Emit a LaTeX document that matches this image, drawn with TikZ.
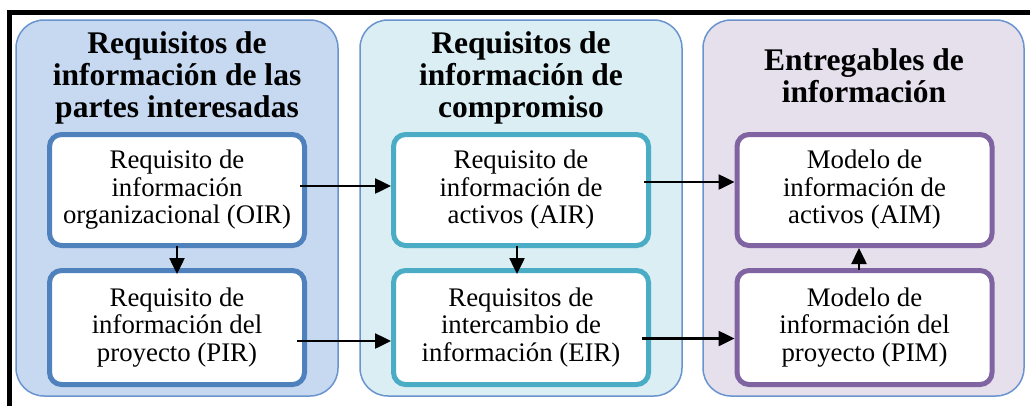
\documentclass[tikz,border=0pt]{standalone}
\usepackage{fontspec}
\setmainfont{Liberation Serif}
\usetikzlibrary{arrows.meta,calc}
\definecolor{pfillA}{HTML}{C6D9F1}
\definecolor{pfillB}{HTML}{DAEEF3}
\definecolor{pfillC}{HTML}{E5E0EC}
\definecolor{pline}{HTML}{6A94CE}
\definecolor{bA}{HTML}{4F81BD}
\definecolor{bB}{HTML}{4BACC6}
\definecolor{bC}{HTML}{8064A2}
\begin{document}
\begin{tikzpicture}[x=1pt,y=-1pt,
  panel/.style={draw=pline, line width=1.5pt, rounded corners=28pt},
  title/.style={font=\fontsize{31.5}{32}\selectfont\bfseries, align=center, inner sep=0pt},
  box/.style={fill=white, line width=5pt, rounded corners=12pt, minimum width=255pt,
    inner sep=0pt, align=center, font=\fontsize{26.8}{27.5}\selectfont},
  conn/.style={line width=2.5pt, -{Triangle[length=16pt,width=15pt]}}]
\useasboundingbox (0,0) rectangle (1030,405);
\clip (0,0) rectangle (1030,405);
\fill[white] (0,0) rectangle (1030,405);
% frame
\draw[line width=5pt] (9.5,420) -- (9.5,12.5) -- (1040,12.5);
% panels
\draw[panel, fill=pfillA] (16,20) rectangle (338,396);
\draw[panel, fill=pfillB] (360,20) rectangle (682,396);
\draw[panel, fill=pfillC] (703,20) rectangle (1024,396);
% titles
\node[title] (tA) at (177,77.6) {Requisitos de\\información de las\\partes interesadas};
\node[title] (tB) at (521,77.6) {Requisitos de\\información de\\compromiso};
\node[title] (tC) at (864,75.3) {Entregables de\\información};
% boxes
\node[box, draw=bA, minimum height=111pt] (oir) at (177,190) {Requisito de\\información\\organizacional (OIR)};
\node[box, draw=bA, minimum height=114pt] (pir) at (177,327.5) {Requisito de\\información del\\proyecto (PIR)};
\node[box, draw=bB, minimum height=111pt] (air) at (521,190) {Requisito de\\información de\\activos (AIR)};
\node[box, draw=bB, minimum height=114pt] (eir) at (521,327.5) {Requisitos de\\intercambio de\\información (EIR)};
\node[box, draw=bC, minimum height=111pt] (aim) at (864.5,190) {Modelo de\\información de\\activos (AIM)};
\node[box, draw=bC, minimum height=114pt] (pim) at (864.5,327.5) {Modelo de\\información del\\proyecto (PIM)};
% connectors
\draw[conn] ($(oir.east)+(-7,-4)$) -- ($(air.west)+(0,-4)$);
\draw[conn] ($(air.east)+(-7,-8)$) -- ($(aim.west)+(0,-8)$);
\draw[conn] ($(pir.east)+(-10,13.5)$) -- ($(eir.west)+(0,13.5)$);
\draw[conn] ($(eir.east)+(-9,11)$) -- ($(pim.west)+(0,11)$);
\draw[conn] ($(oir.south)+(0,-2)$) -- ($(pir.north)+(0,6)$);
\draw[conn] ($(air.south)+(-4,-2)$) -- ($(eir.north)+(-4,6)$);
\draw[conn] ($(pim.north)+(-5.5,2)$) -- ($(aim.south)+(-5.5,0)$);
\end{tikzpicture}
\end{document}
